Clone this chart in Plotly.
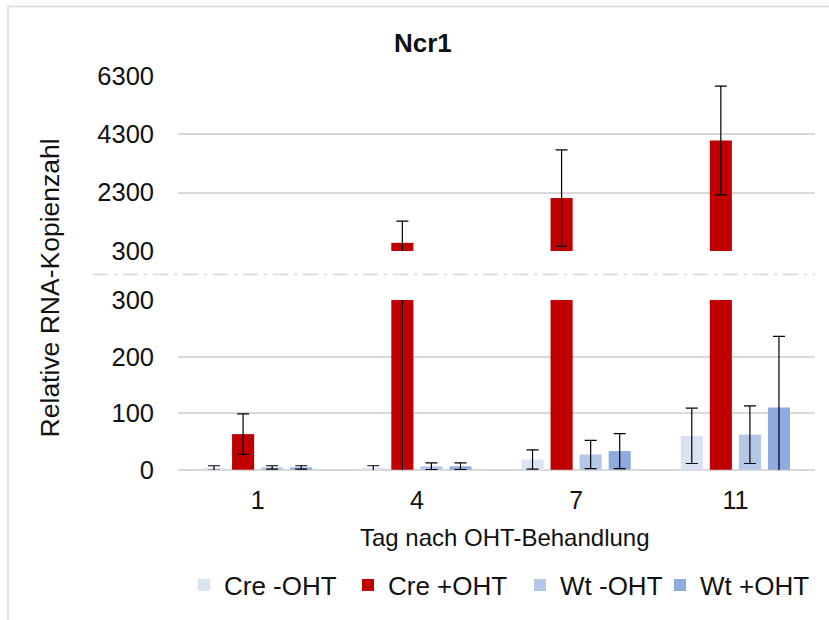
import plotly.graph_objects as go

# ---- data ----
days = ["1", "4", "7", "11"]
series_names = ["Cre -OHT", "Cre +OHT", "Wt -OHT", "Wt +OHT"]
cre_minus = [3, 2, 18, 60]
cre_minus_err = [4, 5, 17, 49]
cre_plus = [63, 570, 2110, 4090]
cre_plus_err = [36, 750, 1660, 1870]
wt_minus = [4, 6, 27, 62]
wt_minus_err = [3, 6, 25, 51]
wt_plus = [4, 6, 33, 110]
wt_plus_err = [3, 6, 31, 126]
colors = ["#dae3f3", "#c00000", "#b4c7e7", "#8faadc"]

upper_ticks = [300, 2300, 4300, 6300]
lower_ticks = [0, 100, 200, 300]

values = [cre_minus, cre_plus, wt_minus, wt_plus]
errors = [cre_minus_err, cre_plus_err, wt_minus_err, wt_plus_err]

FONT = "Liberation Sans, Arial, sans-serif"
TXT = "#111111"
GRID = "#d9d9d9"

legend_ids = ["legend", "legend2", "legend3", "legend4"]
# (pixel x, anchor) of each legend entry box
legend_pos = [(184, "left"), (348, "left"), (520, "left"), (815, "right")]

fig = go.Figure()
for xa, ya, show in (("x", "y", True), ("x2", "y2", False)):
    for name, vals, errs, col, lg in zip(series_names, values, errors, colors, legend_ids):
        fig.add_trace(go.Bar(
            x=days, y=vals, name=name, marker=dict(color=col, line=dict(width=0)),
            error_y=dict(type="data", array=errs, visible=True, color="#000000",
                         thickness=1.2, width=6),
            xaxis=xa, yaxis=ya, showlegend=show, legendgroup=name, legend=lg,
        ))

# plot-area geometry (pixels): left 178, right 815, top 76, bottom 473
W = 637.0
H = 397.0
up_lo = (473 - 252.3) / H
lo_hi = (473 - 301.7) / H

layout_legends = {}
for lg, (px, anc) in zip(legend_ids, legend_pos):
    layout_legends[lg] = dict(orientation="h", x=(px - 178) / W, xanchor=anc,
                              y=(473 - 589) / H, yanchor="middle",
                              font=dict(size=26, color=TXT, family=FONT),
                              bgcolor="rgba(0,0,0,0)")

fig.update_layout(
    width=829, height=620, autosize=False,
    margin=dict(l=178, r=14, t=76, b=147),
    paper_bgcolor="white", plot_bgcolor="white",
    barmode="group", bargap=0.27, bargroupgap=0.24,
    font=dict(family=FONT, size=25, color=TXT),
    xaxis=dict(domain=[0, 1], anchor="y", type="category", showgrid=False,
               showline=False, ticks="", tickfont=dict(size=25, color=TXT),
               ticklabelstandoff=13, zeroline=False),
    yaxis=dict(domain=[0, lo_hi], anchor="x", range=[-0.5, 300.5],
               tickvals=lower_ticks, showgrid=True, gridcolor=GRID, gridwidth=1.8,
               zeroline=True, zerolinecolor=GRID, zerolinewidth=1.8,
               showline=False, ticks="", ticklabelstandoff=23,
               tickfont=dict(size=25.5, color=TXT)),
    xaxis2=dict(domain=[0, 1], anchor="y2", type="category", matches="x",
                showticklabels=False, showgrid=False, showline=False, ticks="",
                zeroline=False),
    yaxis2=dict(domain=[up_lo, 1], anchor="x2", range=[290, 6310],
                tickvals=upper_ticks, showgrid=True, gridcolor=GRID, gridwidth=1.8,
                zeroline=False, showline=False, ticks="", ticklabelstandoff=23,
                tickfont=dict(size=25.5, color=TXT)),
    showlegend=True,
    **layout_legends,
)

# axis titles and chart title
fig.add_annotation(text="Relative RNA-Kopienzahl", xref="paper", yref="paper",
                   x=(50 - 178) / W, y=(473 - 290) / H, textangle=-90,
                   showarrow=False, xanchor="center", yanchor="middle",
                   font=dict(size=26.5, color=TXT, family=FONT))
fig.add_annotation(text="Tag nach OHT-Behandlung", xref="paper", yref="paper",
                   x=(505 - 178) / W, y=(473 - 541) / H,
                   showarrow=False, xanchor="center", yanchor="middle",
                   font=dict(size=24, color=TXT, family=FONT))
fig.add_annotation(text="<b>Ncr1</b>", xref="paper", yref="paper",
                   x=(423 - 178) / W, y=(473 - 43) / H,
                   showarrow=False, xanchor="center", yanchor="middle",
                   font=dict(size=26, color=TXT, family=FONT))

# axis-break dashed line
fig.add_shape(type="line", xref="paper", yref="paper",
              x0=(93 - 178) / W, x1=1.0, y0=(473 - 276) / H, y1=(473 - 276) / H,
              line=dict(color=GRID, width=1.5, dash="longdashdot"))
# chart frame (top and left edges visible)
fig.add_shape(type="path", xref="paper", yref="paper",
              path="M {l},{b} L {l},{t} L {r},{t}".format(
                  l=(8 - 178) / W, b=(473 - 640) / H, t=(473 - 6) / H, r=1.1),
              line=dict(color=GRID, width=1.5))

fig.write_html("out.html")
